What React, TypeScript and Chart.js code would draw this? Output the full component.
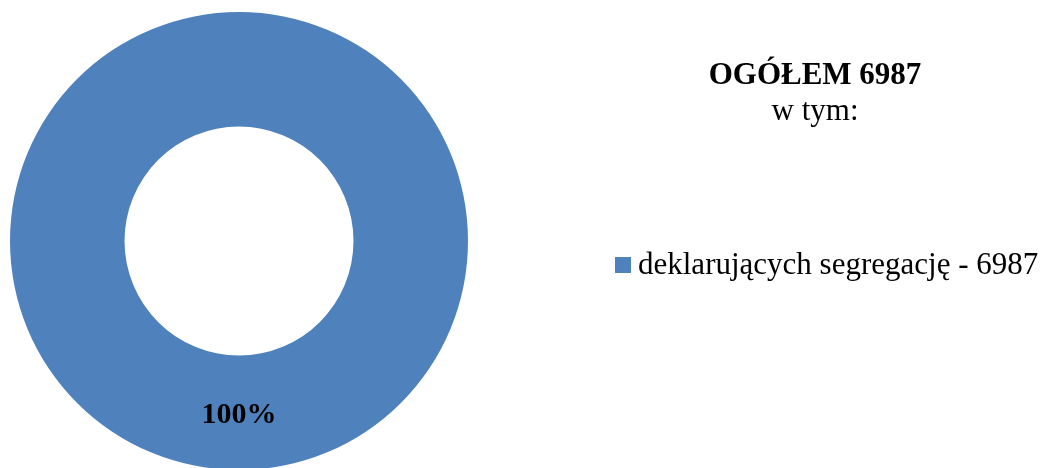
import React, { useEffect, useRef } from "react";
import { Chart, registerables } from "chart.js";

Chart.register(...registerables);

const titleText = "OGÓŁEM 6987";
const subtitleText = "w tym:";
const categories = ["deklarujących segregację - 6987"];
const values = [6987];
const colors = ["#4F81BD"];

const FONT = '"Liberation Serif", "Times New Roman", serif';

const overlayPlugin = {
  id: "overlayText",
  afterDraw(chart: any) {
    const ctx = chart.ctx;
    ctx.save();
    // percent labels
    const meta = chart.getDatasetMeta(0);
    const total = values.reduce((a, b) => a + b, 0);
    ctx.fillStyle = "#000";
    ctx.textAlign = "center";
    ctx.textBaseline = "middle";
    ctx.font = `bold 30px ${FONT}`;
    meta.data.forEach((arc: any, i: number) => {
      const p = arc.getCenterPoint();
      const pct = Math.round((values[i] / total) * 100) + "%";
      ctx.fillText(pct, p.x, p.y + 2);
    });
    // title
    ctx.font = `bold 31px ${FONT}`;
    ctx.fillText(titleText, 815, 76);
    ctx.font = `31px ${FONT}`;
    ctx.fillText(subtitleText, 815, 112);
    // legend
    ctx.textAlign = "left";
    categories.forEach((c, i) => {
      const y = 265 + i * 40;
      ctx.fillStyle = colors[i];
      ctx.fillRect(615, y - 8, 16, 16);
      ctx.fillStyle = "#000";
      ctx.fillText(c, 638, y + 1);
    });
    ctx.restore();
  },
};

export default function App() {
  const ref = useRef<HTMLCanvasElement | null>(null);
  useEffect(() => {
    document.body.style.margin = "0";
    if (!ref.current) return;
    const chart = new Chart(ref.current, {
      type: "doughnut",
      data: {
        labels: categories,
        datasets: [
          {
            data: values,
            backgroundColor: colors,
            borderWidth: 0,
          },
        ],
      },
      options: {
        responsive: false,
        animation: false,
        cutout: "50%",
        layout: { padding: { left: 10, top: 12, right: 585, bottom: 10 } },
        plugins: {
          legend: { display: false },
          tooltip: { enabled: false },
          title: { display: false },
        },
      },
      plugins: [overlayPlugin],
    });
    return () => chart.destroy();
  }, []);
  return (
    <div style={{ position: "relative", width: 1053, height: 468, overflow: "hidden", background: "#fff" }}>
      <canvas ref={ref} width={1053} height={480} style={{ display: "block" }} />
    </div>
  );
}
